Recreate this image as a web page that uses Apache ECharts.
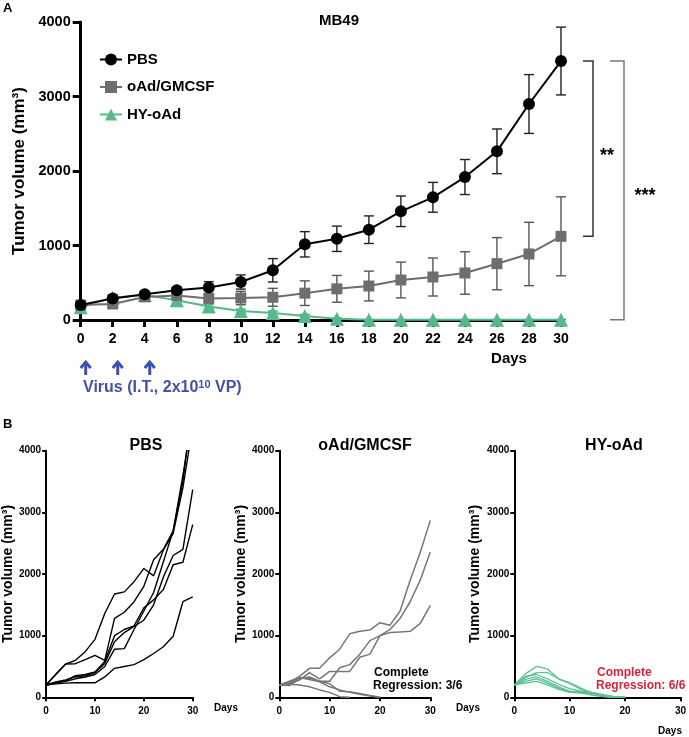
<!DOCTYPE html>
<html><head><meta charset="utf-8">
<script src="https://cdn.jsdelivr.net/npm/echarts@6/dist/echarts.min.js"></script>
<style>html,body{margin:0;padding:0;background:#fff}#c{width:689px;height:737px}</style>
</head><body><div id="c"></div>
<script>
// ---------- data ----------
const days = [0,2,4,6,8,10,12,14,16,18,20,22,24,26,28,30];
const yTicks = [0,1000,2000,3000,4000];
const groupNames = ['PBS','oAd/GMCSF','HY-oAd'];

const pbsMean = [200,290,345,400,435,510,667,1016,1090,1212,1459,1647,1919,2264,2899,3476];
const pbsErr  = [30,40,40,40,80,95,157,170,170,185,205,200,235,300,395,455];
const gmMean  = [200,215,310,330,290,295,305,360,418,456,537,577,631,756,886,1123];
const gmErr   = [20,30,40,50,60,90,120,165,180,200,240,255,285,350,425,530];
const hyMean  = [170,300,335,265,180,120,95,55,18,5,5,5,5,5,5,5];
const hyErr   = [20,30,30,30,30,25,25,20,10,3,2,2,2,2,2,2];

// individual mice
const pbs1 = [200,220,230,235,235,235,330,470,500,530,610,710,820,990,1550,1630];
const pbs2 = [200,380,540,600,740,940,1360,1675,1710,1875,2090,1970,2390,2660,3400,4400];
const pbs3 = [200,370,540,545,610,680,600,1280,1380,1550,1800,2230,2400,2700,3600,4600];
const pbs4 = [200,240,270,350,370,410,580,1000,1100,1160,1450,1580,1750,2150,2190,2800];
const pbs5 = [200,250,280,330,350,400,550,900,1050,1150,1250,1500,1950,2300,2400,3370];
const pbs6 = [200,230,260,300,330,370,500,780,790,1100,1400,1700,2200,2700,3500,4800];

const gm1 = [200,240,340,470,470,640,780,1030,1070,1090,1210,1170,1400,1900,2350,2870];
const gm2 = [200,190,300,330,260,260,480,530,700,920,1000,1100,1280,1550,1900,2355];
const gm3 = [200,220,280,400,300,420,420,420,650,700,1000,1050,1060,1070,1200,1490];
const gm4 = [200,230,310,310,260,220,100,90,60,30,0];
const gm5 = [200,260,320,290,250,170,120,80,50,20,0];
const gm6 = [200,210,200,170,120,80,10,0];

const hy1 = [200,380,500,460,300,240,150,70,25,0,0];
const hy2 = [200,320,400,400,300,220,130,80,40,10,0];
const hy3 = [200,340,370,300,210,140,100,80,45,10,0];
const hy4 = [200,290,330,260,170,100,90,60,25,5,0];
const hy5 = [200,260,300,230,150,90,80,45,15,0,0];
const hy6 = [200,230,260,200,130,80,70,35,10,0,0];

// ---------- style ----------
const F = "'Liberation Sans', Arial, Helvetica, sans-serif";
const FN = "'Liberation Sans Narrow', 'Arial Narrow', 'Liberation Sans', sans-serif";
const BLACK = '#000000', GRAY = '#6e6e6e', GREEN = '#55b98a';
const GRAY_L = '#777777', GREEN_L = '#5ec095';
const plain = v => String(v);

const pts = arr => arr.map((v,i)=>[days[i], v]);
const errPts = (m,e) => m.map((v,i)=>[days[i], v-e[i], v+e[i]]);

function errSeries(m, e, color){
  return {
    type:'custom', xAxisIndex:0, yAxisIndex:0, silent:true, z:1,
    data: errPts(m,e),
    renderItem:(params, api)=>{
      const x = api.value(0);
      const lo = api.coord([x, api.value(1)]);
      const hi = api.coord([x, api.value(2)]);
      const w = 5;
      const st = {stroke:color, lineWidth:1.4};
      return {type:'group', children:[
        {type:'line', shape:{x1:lo[0],y1:lo[1],x2:hi[0],y2:hi[1]}, style:st},
        {type:'line', shape:{x1:hi[0]-w,y1:hi[1],x2:hi[0]+w,y2:hi[1]}, style:st},
        {type:'line', shape:{x1:lo[0]-w,y1:lo[1],x2:lo[0]+w,y2:lo[1]}, style:st}
      ]};
    }
  };
}

const grids = [
  {left:80.7, right:128, top:22, bottom:417},
  {left:42.3, right:496.3, top:450.7, bottom:39.7},
  {left:279.3, right:258.7, top:450.7, bottom:39.7},
  {left:514.3, right:4.7, top:450.7, bottom:39.7}
];

const topX = {
  gridIndex:0, type:'value', min:0, max:30, interval:2,
  axisLine:{show:true, lineStyle:{color:'#000', width:3}},
  axisTick:{show:true, length:7, lineStyle:{color:'#000', width:3}},
  axisLabel:{color:'#000', fontFamily:F, fontWeight:'bold', fontSize:14, margin:12, formatter:plain},
  splitLine:{show:false}
};
const topY = {
  gridIndex:0, type:'value', min:0, max:4000, interval:1000,
  axisLine:{show:true, lineStyle:{color:'#000', width:3}},
  axisTick:{show:true, length:8, lineStyle:{color:'#000', width:3}},
  axisLabel:{color:'#000', fontFamily:F, fontWeight:'bold', fontSize:14.5, margin:10, formatter:plain},
  splitLine:{show:false},
  name:'Tumor volume (mm³)', nameLocation:'middle', nameGap:41,
  nameTextStyle:{color:'#000', fontFamily:F, fontWeight:'bold', fontSize:17}
};
function botX(i){
  return {
    gridIndex:i, type:'value', min:0, max:30, interval:10,
    axisLine:{show:true, lineStyle:{color:'#000', width:2}},
    axisTick:{show:true, length:4, lineStyle:{color:'#000', width:2}},
    axisLabel:{color:'#000', fontFamily:FN, fontWeight:'bold', fontSize:10, margin:9, formatter:plain},
    splitLine:{show:false}
  };
}
function botY(i, gap){
  return {
    gridIndex:i, type:'value', min:0, max:4000, interval:1000,
    axisLine:{show:true, lineStyle:{color:'#000', width:2}},
    axisTick:{show:true, length:4, lineStyle:{color:'#000', width:2}},
    axisLabel:{color:'#000', fontFamily:FN, fontWeight:'bold', fontSize:10, margin:5, formatter:plain},
    splitLine:{show:false},
    name:'Tumor volume (mm³)', nameLocation:'middle', nameGap:gap,
    nameTextStyle:{color:'#000', fontFamily:F, fontWeight:'bold', fontSize:14}
  };
}

function indiv(arr, idx, color, w){
  return {type:'line', xAxisIndex:idx, yAxisIndex:idx, data:pts(arr), showSymbol:false,
    symbol:'none', lineStyle:{color:color, width:w}, itemStyle:{color:color}, silent:true, clip:true, z:2};
}

const series = [
  errSeries(hyMean, hyErr, '#4a9e76'),
  {type:'line', name:groupNames[2], xAxisIndex:0, yAxisIndex:0, data:pts(hyMean),
   symbol:'triangle', symbolSize:14, lineStyle:{color:GREEN, width:2}, itemStyle:{color:GREEN}, z:3},
  errSeries(gmMean, gmErr, '#555555'),
  {type:'line', name:groupNames[1], xAxisIndex:0, yAxisIndex:0, data:pts(gmMean),
   symbol:'rect', symbolSize:11, lineStyle:{color:GRAY, width:2}, itemStyle:{color:GRAY}, z:4},
  errSeries(pbsMean, pbsErr, '#222222'),
  {type:'line', name:groupNames[0], xAxisIndex:0, yAxisIndex:0, data:pts(pbsMean),
   symbol:'circle', symbolSize:12, lineStyle:{color:BLACK, width:2}, itemStyle:{color:BLACK}, z:5},
  ...[pbs1,pbs2,pbs3,pbs4,pbs5,pbs6].map(a=>indiv(a,1,'#000000',1.4)),
  ...[gm1,gm2,gm3,gm4,gm5,gm6].map(a=>indiv(a,2,GRAY_L,1.5)),
  ...[hy1,hy2,hy3,hy4,hy5,hy6].map(a=>indiv(a,3,GREEN_L,1.3))
];

const chart = echarts.init(document.getElementById('c'), null, {renderer:'canvas'});
chart.setOption({
  backgroundColor:'#ffffff',
  animation:false,
  grid:grids,
  xAxis:[topX, botX(1), botX(2), botX(3)],
  yAxis:[topY, botY(1,27), botY(2,27), botY(3,32)],
  legend:{
    data:groupNames, orient:'vertical', left:94, top:47, itemWidth:22, itemHeight:15, itemGap:12.5,
    textStyle:{color:'#000', fontFamily:F, fontWeight:'bold', fontSize:15}, selectedMode:false
  },
  series:series
});

// ---------- annotations (positions derived from data via axes) ----------
const p = (d,v)=>chart.convertToPixel({xAxisIndex:0, yAxisIndex:0}, [d,v]);
const last = days.length-1;
const yP = p(30, pbsMean[last])[1];
const yG = p(30, gmMean[last])[1];
const yH = p(30, hyMean[last])[1];
const xEnd = p(30,0)[0];
const txt = (x,y,s,opt)=>({type:'text', x:x, y:y, style:Object.assign({text:s, fill:'#000', font:'bold 15px '+F, align:'center', verticalAlign:'middle'}, opt||{})});

const graphics = [
  txt(3,8,'A',{align:'left', font:'bold 13px '+F}),
  txt(3,424,'B',{align:'left', font:'bold 13px '+F}),
  txt(339,21,'MB49'),
  txt(509,359,'Days'),
  // brackets
  {type:'polyline', shape:{points:[[xEnd+22,yP],[xEnd+32,yP],[xEnd+32,yG],[xEnd+22,yG]]}, style:{stroke:'#333', lineWidth:1.5, fill:null}},
  {type:'polyline', shape:{points:[[xEnd+49,yP],[xEnd+63,yP],[xEnd+63,yH],[xEnd+49,yH]]}, style:{stroke:'#777', lineWidth:1.5, fill:null}},
  txt(xEnd+46,(yP+yG)/2+7,'**',{font:'bold 18px '+F}),
  txt(xEnd+84,(yP+yH)/2+6,'***',{font:'bold 18px '+F}),
  // virus label
  {type:'text', x:83, y:388, style:{
    text:'{a|Virus (I.T., 2x10}{s|10}{a| VP)}', verticalAlign:'middle', align:'left',
    rich:{a:{fill:'#4152a6', font:'bold 16px '+F}, s:{fill:'#4152a6', font:'bold 11px '+F, verticalAlign:'top', padding:[0,0,6,0]}}
  }},
  // bottom panel texts
  txt(146,446,'PBS',{font:'bold 16px '+F}),
  txt(365,446,'oAd/GMCSF',{font:'bold 16px '+F}),
  txt(614,446,'HY-oAd',{font:'bold 16px '+F}),
  txt(226,708,'Days',{font:'bold 10px '+FN}),
  txt(468,708,'Days',{font:'bold 10px '+FN}),
  txt(670,731,'Days',{font:'bold 10px '+FN}),
  txt(374,673,'Complete',{align:'left', font:'bold 12px '+F}),
  txt(373,686,'Regression: 3/6',{align:'left', font:'bold 12px '+F}),
  txt(597,673,'Complete',{align:'left', font:'bold 12px '+F, fill:'#d3263c'}),
  txt(596,686,'Regression: 6/6',{align:'left', font:'bold 12px '+F, fill:'#d3263c'})
];
// injection arrows at days 0,2,4
[0,2,4].forEach(d=>{
  const x = p(d,0)[0] + 5;
  graphics.push({type:'line', shape:{x1:x,y1:363,x2:x,y2:375}, style:{stroke:'#3f51a8', lineWidth:3}});
  graphics.push({type:'polyline', shape:{points:[[x-5,368],[x,362],[x+5,368]]}, style:{stroke:'#3f51a8', lineWidth:3, fill:null}});
});
chart.setOption({graphic:graphics});
</script>
</body></html>
